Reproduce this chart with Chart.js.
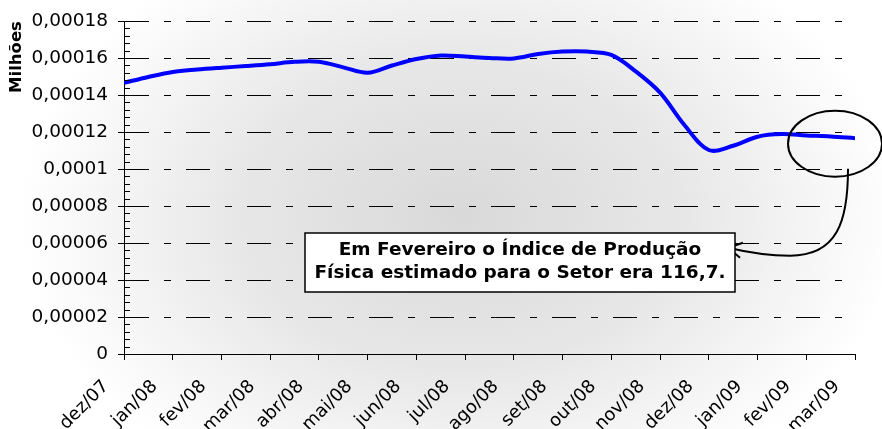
<!DOCTYPE html>
<html>
<head>
<meta charset="utf-8">
<script src="https://cdn.jsdelivr.net/npm/chart.js@4/dist/chart.umd.min.js"></script>
<style>
  html, body { margin: 0; padding: 0; background: #fff; }
  #wrap { width: 882px; height: 429px; }
</style>
</head>
<body>
<div id="wrap"><canvas id="chart" width="882" height="429"></canvas></div>
<script>
const months = ['dez/07', 'jan/08', 'fev/08', 'mar/08', 'abr/08', 'mai/08', 'jun/08', 'jul/08',
  'ago/08', 'set/08', 'out/08', 'nov/08', 'dez/08', 'jan/09', 'fev/09', 'mar/09'];

// readings every half month, position counted in months from dez/07
const readingPos = [0, 0.5, 1, 1.5, 2, 2.5, 3, 3.5, 4, 4.5, 5, 5.5, 6, 6.5, 7, 7.5,
  8, 8.5, 9, 9.5, 10, 10.5, 11, 11.5, 12, 12.5, 13, 13.5, 14, 14.5, 15];

// physical production index (shown on the chart in millions)
const indexValues = [146.6, 149.8, 152.5, 153.8, 154.8, 155.7, 156.7, 158.0, 158.0, 155.0,
  152.1, 156.0, 159.5, 161.4, 160.8, 160.1, 159.8, 162.2, 163.5, 163.5, 161.7, 152.8,
  141.3, 123.8, 110.3, 112.6, 117.5, 118.9, 118.2, 117.6, 116.7];

const yTickStep = 0.00002;
const yMax = 0.00018;

const noteLines = ['Em Fevereiro o Índice de Produção', 'Física estimado para o Setor era 116,7.'];

const points = readingPos.map((p, i) => ({ x: p, y: indexValues[i] / 1e6 }));

const backdrop = {
  id: 'backdrop',
  beforeDraw(chart) {
    const ctx = chart.ctx;
    ctx.save();
    ctx.fillStyle = '#fff';
    ctx.fillRect(0, 0, chart.width, chart.height);
    ctx.translate(460, 215);
    ctx.scale(1, 0.7);
    const g = ctx.createRadialGradient(0, 0, 0, 0, 0, 440);
    g.addColorStop(0, '#d9d9d9');
    g.addColorStop(0.5, '#e7e7e7');
    g.addColorStop(1, '#ffffff');
    ctx.fillStyle = g;
    ctx.fillRect(-460, -320, 900, 660);
    ctx.restore();
  }
};

const minorTicks = {
  id: 'minorTicks',
  afterDraw(chart) {
    const y = chart.scales.y;
    const ctx = chart.ctx;
    ctx.save();
    ctx.strokeStyle = '#000';
    ctx.lineWidth = 1;
    for (let v = 0; v <= yMax + 1e-12; v += yTickStep / 5) {
      const py = Math.round(y.getPixelForValue(v)) + 0.5;
      ctx.beginPath();
      ctx.moveTo(chart.chartArea.left, py);
      ctx.lineTo(chart.chartArea.left + 6, py);
      ctx.stroke();
    }
    ctx.restore();
  }
};

const callout = {
  id: 'callout',
  afterDraw(chart) {
    const ctx = chart.ctx;
    const xs = chart.scales.x, ys = chart.scales.y;
    const cx = xs.getPixelForValue(14.59), cy = ys.getPixelForValue(0.0001137);
    ctx.save();
    ctx.strokeStyle = '#000';
    ctx.lineWidth = 2;
    ctx.beginPath();
    ctx.ellipse(cx, cy, 47, 33, 0, 0, Math.PI * 2);
    ctx.stroke();

    // curved arrow from the circle to the note
    ctx.beginPath();
    ctx.moveTo(cx + 13, cy + 25);
    ctx.bezierCurveTo(cx + 13, cy + 78, cx + 2, cy + 112, cx - 45, cy + 112);
    ctx.bezierCurveTo(cx - 70, cy + 112, cx - 90, cy + 108, cx - 107, cy + 104);
    ctx.stroke();
    ctx.beginPath();
    ctx.moveTo(cx - 92, cy + 99);
    ctx.lineTo(cx - 107, cy + 104);
    ctx.lineTo(cx - 95, cy + 114);
    ctx.stroke();

    // note box
    const bx = 305, by = 233, bw = 430, bh = 59;
    ctx.fillStyle = '#fff';
    ctx.fillRect(bx, by, bw, bh);
    ctx.lineWidth = 1.5;
    ctx.strokeRect(bx, by, bw, bh);
    ctx.fillStyle = '#000';
    ctx.font = 'bold 18.5px "DejaVu Sans"';
    ctx.textAlign = 'center';
    ctx.textBaseline = 'middle';
    ctx.fillText(noteLines[0], bx + bw / 2, by + 17);
    ctx.fillText(noteLines[1], bx + bw / 2, by + 40);
    ctx.restore();
  }
};

new Chart(document.getElementById('chart'), {
  type: 'line',
  data: {
    datasets: [{
      data: points,
      borderColor: '#0000ff',
      borderWidth: 4,
      pointRadius: 0,
      tension: 0.35,
      fill: false
    }]
  },
  options: {
    responsive: false,
    animation: false,
    layout: { padding: { top: 20, right: 27, left: 0, bottom: 0 } },
    plugins: { legend: { display: false }, tooltip: { enabled: false } },
    scales: {
      x: {
        type: 'linear',
        min: 0,
        max: months.length - 1,
        afterFit: s => { s.height = 75; s.paddingRight = 0; s.paddingLeft = 0; },
        ticks: {
          stepSize: 1,
          autoSkip: false,
          maxRotation: 45,
          minRotation: 45,
          labelOffset: -18,
          padding: 16,
          color: '#000',
          font: { family: 'DejaVu Sans', size: 18 },
          callback: v => months[v]
        },
        grid: { drawOnChartArea: false, color: '#000', tickLength: 6, tickBorderDash: [] },
        border: { color: '#000', width: 1 }
      },
      y: {
        min: 0,
        max: yMax,
        afterFit: s => { s.width = 124; },
        ticks: {
          stepSize: yTickStep,
          padding: 10,
          color: '#000',
          font: { family: 'DejaVu Sans', size: 18.5 },
          callback: v => String(+v.toFixed(5)).replace('.', ',')
        },
        title: {
          display: true,
          text: 'Milhões',
          align: 'end',
          color: '#000',
          padding: { top: 7, bottom: 0 },
          font: { family: 'DejaVu Sans', size: 16.5, weight: 'bold' }
        },
        grid: { color: '#000', lineWidth: 1, tickLength: 6, borderDash: [24, 15, 7, 15], tickBorderDash: [] },
        border: { color: '#000', width: 1, dash: [24, 15, 7, 15] }
      }
    }
  },
  plugins: [backdrop, minorTicks, callout]
});
</script>
</body>
</html>
